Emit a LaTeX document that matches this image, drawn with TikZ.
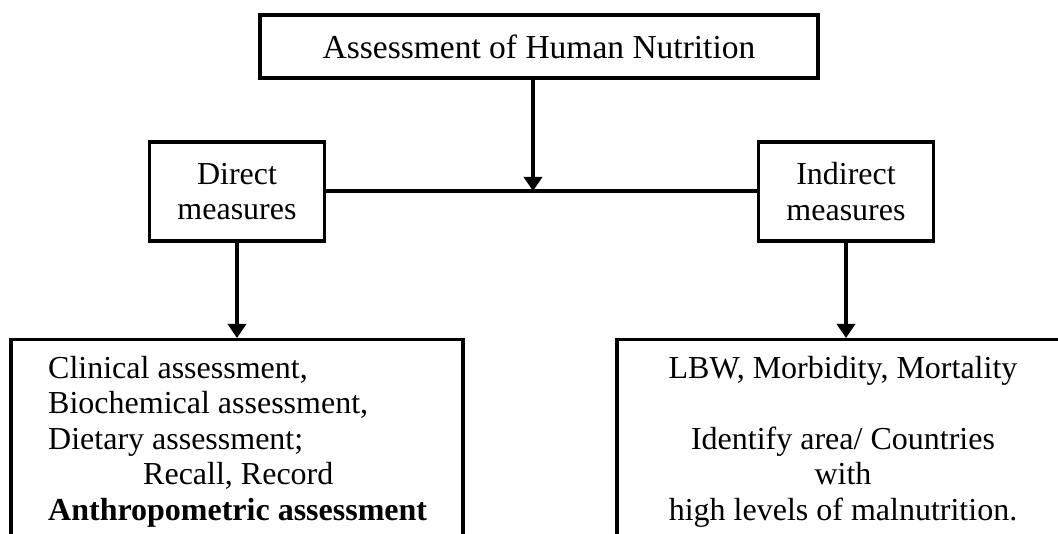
\documentclass[tikz,border=0pt]{standalone}
\usepackage{fontspec}
\setmainfont{Liberation Serif}
\usetikzlibrary{positioning,arrows.meta}

\begin{document}
\begin{tikzpicture}[
  x=1pt, y=-1pt,
  every node/.style={font=\fontsize{32}{35.5}\selectfont},
  mybox/.style={draw, line width=3.5pt, inner sep=0pt, align=center},
  mytext/.style={inner sep=0pt},
  link/.style={line width=4pt},
  arr/.style={link, -{Triangle[width=18pt,length=14pt]}}
]
\clip (0,0) rectangle (1058,534);

% top level
\node[mybox, minimum width=558, minimum height=63, font=\fontsize{33.5}{36}\selectfont] (top) at (539,46.5) {Assessment of Human Nutrition};
\coordinate (jn) at (533,191);

% second level
\node[mybox, minimum width=175, minimum height=99] (dm) at (237,191.5) {Direct\\measures};
\node[mybox, minimum width=175, minimum height=99] (im) at (846,191.5) {Indirect\\measures};

% bottom boxes (run past the page edge)
\node[mybox, minimum width=452, minimum height=300, anchor=north] (dbox) at (237,338) {};
\node[mybox, minimum width=500, minimum height=300, anchor=north] (ibox) at (867,338) {};

\node[mytext, align=left, anchor=north west] (dtext) at (48,356)
  {Clinical assessment,\\
   Biochemical assessment,\\
   Dietary assessment;\\
   \hspace*{95pt}Recall, Record\\
   \textbf{Anthropometric assessment}};
\node[mytext, align=center, anchor=north] (itext) at (843,356)
  {LBW, Morbidity, Mortality\\[35.5pt]
   Identify area/ Countries\\
   with\\
   high levels of malnutrition.};

% connectors
\draw[arr] (top.south -| jn) -- (jn);
\draw[link] (dm.east) -- (im.west);
\draw[arr] (dm.south) -- (dm.south |- dbox.north);
\draw[arr] (im.south) -- (im.south |- ibox.north);

\end{tikzpicture}
\end{document}
